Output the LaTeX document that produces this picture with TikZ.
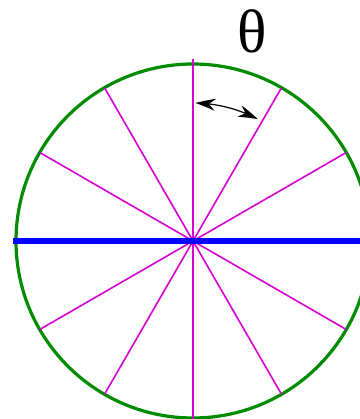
\documentclass[tikz,border=0pt]{standalone}
\usepackage{fontspec}
\setmainfont{Liberation Serif}
\usetikzlibrary{arrows.meta,bending}
\definecolor{rimgreen}{RGB}{0,140,0}
\definecolor{spokemag}{RGB}{214,0,214}
\definecolor{axisblue}{RGB}{0,0,255}
\begin{document}
\begin{tikzpicture}[x=0.75pt, y=0.75pt,
  spoke/.style={spokemag, line width=1.2pt},
  rim/.style={rimgreen, line width=2.4pt},
  axisline/.style={axisblue, line width=3.8pt}]
  \useasboundingbox (0,0) rectangle (360,419);
  \coordinate (o) at (193,178);
  \coordinate (vtop) at (193,360);
  \coordinate (vbot) at (193,0);
  \coordinate (hl) at (13,178);
  \coordinate (hr) at (360,178);
  \draw[rim] (o) circle (177);
  % spokes every 30 degrees
  \foreach \a in {30,60,120,150}
    \draw[spoke] ([shift={(\a:177)}]o) -- ([shift={(\a+180:177)}]o);
  \draw[spoke] (vtop) -- (vbot);
  \draw[axisline] (hl) -- (hr);
  \draw[line width=0.9pt, arrows={Stealth[length=15pt,width=9pt,bend]-Stealth[length=15pt,width=9pt,bend]}]
    ([shift={(89:138)}]o) arc (89:62:138);
  \node[font=\fontsize{46}{50}\selectfont] (theta) at (252,388) {θ};
\end{tikzpicture}
\end{document}
